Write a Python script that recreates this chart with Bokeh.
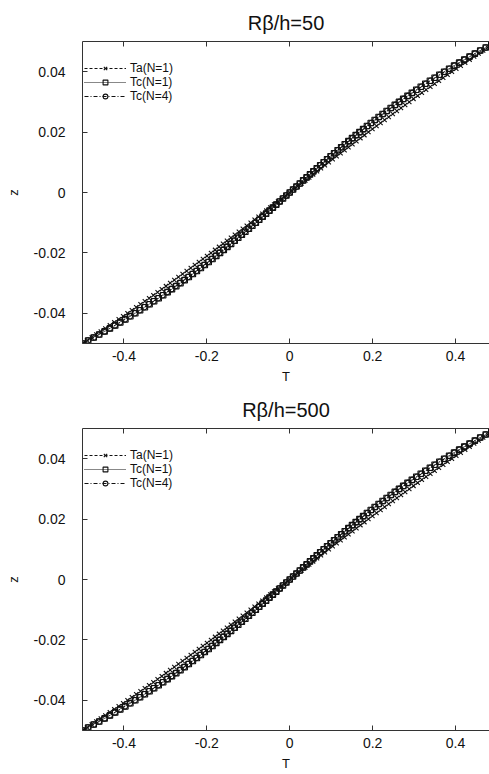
from bokeh.plotting import figure
from bokeh.layouts import column
from bokeh.models import (ColumnDataSource, FixedTicker, LinearAxis, Range1d,
                          CustomJSTickFormatter, Legend, LegendItem)
from bokeh.embed import file_html
from bokeh.resources import INLINE

# ---------------- data ----------------
z = [-0.050, -0.049, -0.048, -0.047, -0.046, -0.045, -0.044, -0.043, -0.042, -0.041,
     -0.040, -0.039, -0.038, -0.037, -0.036, -0.035, -0.034, -0.033, -0.032, -0.031,
     -0.030, -0.029, -0.028, -0.027, -0.026, -0.025, -0.024, -0.023, -0.022, -0.021,
     -0.020, -0.019, -0.018, -0.017, -0.016, -0.015, -0.014, -0.013, -0.012, -0.011,
     -0.010, -0.009, -0.008, -0.007, -0.006, -0.005, -0.004, -0.003, -0.002, -0.001,
     0.000,
     0.001, 0.002, 0.003, 0.004, 0.005, 0.006, 0.007, 0.008, 0.009, 0.010,
     0.011, 0.012, 0.013, 0.014, 0.015, 0.016, 0.017, 0.018, 0.019, 0.020,
     0.021, 0.022, 0.023, 0.024, 0.025, 0.026, 0.027, 0.028, 0.029, 0.030,
     0.031, 0.032, 0.033, 0.034, 0.035, 0.036, 0.037, 0.038, 0.039, 0.040,
     0.041, 0.042, 0.043, 0.044, 0.045, 0.046, 0.047, 0.048, 0.049, 0.050]

ta_50 = [-0.5000, -0.4888, -0.4777, -0.4667, -0.4558, -0.4449, -0.4340, -0.4233, -0.4126, -0.4019,
         -0.3914, -0.3808, -0.3704, -0.3600, -0.3496, -0.3393, -0.3290, -0.3188, -0.3087, -0.2986,
         -0.2885, -0.2785, -0.2685, -0.2585, -0.2486, -0.2388, -0.2289, -0.2191, -0.2094, -0.1996,
         -0.1899, -0.1802, -0.1706, -0.1610, -0.1514, -0.1418, -0.1323, -0.1227, -0.1132, -0.1037,
         -0.0942, -0.0848, -0.0753, -0.0659, -0.0565, -0.0470, -0.0376, -0.0282, -0.0188, -0.0094,
         0.0000,
         0.0094, 0.0188, 0.0282, 0.0376, 0.0470, 0.0565, 0.0659, 0.0753, 0.0848, 0.0942,
         0.1037, 0.1132, 0.1227, 0.1323, 0.1418, 0.1514, 0.1610, 0.1706, 0.1802, 0.1899,
         0.1996, 0.2094, 0.2191, 0.2289, 0.2388, 0.2486, 0.2585, 0.2685, 0.2785, 0.2885,
         0.2986, 0.3087, 0.3188, 0.3290, 0.3393, 0.3496, 0.3600, 0.3704, 0.3808, 0.3914,
         0.4019, 0.4126, 0.4233, 0.4340, 0.4449, 0.4558, 0.4667, 0.4777, 0.4888, 0.5000]

tc1_50 = [-0.5000, -0.4863, -0.4729, -0.4596, -0.4466, -0.4338, -0.4211, -0.4087, -0.3965, -0.3845,
          -0.3726, -0.3610, -0.3495, -0.3382, -0.3271, -0.3161, -0.3053, -0.2946, -0.2841, -0.2737,
          -0.2635, -0.2534, -0.2435, -0.2337, -0.2240, -0.2144, -0.2049, -0.1955, -0.1863, -0.1771,
          -0.1681, -0.1591, -0.1502, -0.1414, -0.1327, -0.1241, -0.1155, -0.1070, -0.0985, -0.0901,
          -0.0818, -0.0735, -0.0652, -0.0570, -0.0488, -0.0406, -0.0324, -0.0243, -0.0162, -0.0081,
          0.0000,
          0.0081, 0.0162, 0.0243, 0.0324, 0.0406, 0.0488, 0.0570, 0.0652, 0.0735, 0.0818,
          0.0901, 0.0985, 0.1070, 0.1155, 0.1241, 0.1327, 0.1414, 0.1502, 0.1591, 0.1681,
          0.1771, 0.1863, 0.1955, 0.2049, 0.2144, 0.2240, 0.2337, 0.2435, 0.2534, 0.2635,
          0.2737, 0.2841, 0.2946, 0.3053, 0.3161, 0.3271, 0.3382, 0.3495, 0.3610, 0.3726,
          0.3845, 0.3965, 0.4087, 0.4211, 0.4338, 0.4466, 0.4596, 0.4729, 0.4863, 0.5000]

tc4_50 = [-0.5000, -0.4865, -0.4732, -0.4602, -0.4473, -0.4346, -0.4221, -0.4098, -0.3977, -0.3858,
          -0.3741, -0.3625, -0.3511, -0.3399, -0.3288, -0.3179, -0.3071, -0.2965, -0.2860, -0.2757,
          -0.2654, -0.2554, -0.2454, -0.2356, -0.2259, -0.2163, -0.2068, -0.1974, -0.1881, -0.1789,
          -0.1698, -0.1607, -0.1518, -0.1429, -0.1341, -0.1254, -0.1168, -0.1082, -0.0996, -0.0912,
          -0.0827, -0.0743, -0.0660, -0.0576, -0.0494, -0.0411, -0.0328, -0.0246, -0.0164, -0.0082,
          0.0000,
          0.0082, 0.0164, 0.0246, 0.0328, 0.0411, 0.0494, 0.0576, 0.0660, 0.0743, 0.0827,
          0.0912, 0.0996, 0.1082, 0.1168, 0.1254, 0.1341, 0.1429, 0.1518, 0.1607, 0.1698,
          0.1789, 0.1881, 0.1974, 0.2068, 0.2163, 0.2259, 0.2356, 0.2454, 0.2554, 0.2654,
          0.2757, 0.2860, 0.2965, 0.3071, 0.3179, 0.3288, 0.3399, 0.3511, 0.3625, 0.3741,
          0.3858, 0.3977, 0.4098, 0.4221, 0.4346, 0.4473, 0.4602, 0.4732, 0.4865, 0.5000]

# the R/h=500 panel reads the same within pixel accuracy
ta_500 = ta_50
tc1_500 = tc1_50
tc4_500 = tc4_50

series_labels = ["Ta(N=1)", "Tc(N=1)", "Tc(N=4)"]
titles = ["R\u03b2/h=50", "R\u03b2/h=500"]
x_ticks = [-0.4, -0.2, 0, 0.2, 0.4]
y_ticks = [-0.04, -0.02, 0, 0.02, 0.04]

FONT = "Liberation Sans"
INK = "#111111"
LEGEND_ROW_Y = [268, 254, 240]   # screen offsets of the three legend rows from the frame bottom


def make_panel(title, ta, tc1, tc4, height, bottom):
    src = ColumnDataSource(dict(z=z, ta=ta, tc1=tc1, tc4=tc4))
    p = figure(width=489, height=height, title=title,
               x_range=Range1d(-0.5, 0.482), y_range=Range1d(-0.05, 0.05),
               output_backend="svg", toolbar_location=None,
               min_border_left=82, min_border_right=0,
               min_border_top=41, min_border_bottom=bottom)
    p.outline_line_color = None
    p.grid.visible = False
    p.background_fill_color = "white"

    p.title.text_font = FONT
    p.title.text_font_size = "20px"
    p.title.text_font_style = "normal"
    p.title.text_color = INK
    p.title.align = "center"
    p.title.standoff = 15

    fmt = CustomJSTickFormatter(code="return tick.toString();")
    for ax, ticks, lab in ((p.xaxis[0], x_ticks, "T"), (p.yaxis[0], y_ticks, "z")):
        ax.ticker = FixedTicker(ticks=ticks)
        ax.formatter = fmt
        ax.axis_label = lab
        ax.axis_label_text_font = FONT
        ax.axis_label_text_font_size = "13px"
        ax.axis_label_text_font_style = "normal"
        ax.axis_label_text_color = INK
        ax.major_label_text_font = FONT
        ax.major_label_text_font_size = "14px"
        ax.major_label_text_color = INK
        ax.major_tick_in = 5
        ax.major_tick_out = 0
        ax.minor_tick_line_color = None
        ax.axis_line_color = "#333333"
        ax.major_tick_line_color = "#333333"
    p.xaxis[0].major_label_standoff = 7
    p.xaxis[0].axis_label_standoff = 5
    p.yaxis[0].major_label_standoff = 17
    p.yaxis[0].axis_label_standoff = 10

    top = LinearAxis(ticker=FixedTicker(ticks=x_ticks),
                     formatter=CustomJSTickFormatter(code="return '';"),
                     major_tick_in=5, major_tick_out=0, major_label_standoff=0,
                     major_label_text_font_size="0px",
                     axis_line_color="#333333", major_tick_line_color="#333333",
                     minor_tick_line_color=None)
    p.add_layout(top, "above")

    r = []
    r.append((p.line("ta", "z", source=src, line_color=INK, line_width=1, line_dash="3 2"),
              p.scatter("ta", "z", source=src, marker="x", size=6, line_color=INK,
                        line_width=1.1)))
    r.append((p.line("tc1", "z", source=src, line_color=INK, line_width=1, line_dash="1 1"),
              p.scatter("tc1", "z", source=src, marker="square", size=5.5, line_color=INK,
                        fill_color=None, line_width=1.1)))
    r.append((p.line("tc4", "z", source=src, line_color=INK, line_width=1, line_dash="4 2 1 2"),
              p.scatter("tc4", "z", source=src, marker="circle", size=5.5, line_color=INK,
                        fill_color=None, line_width=1.1)))

    for lab, rends, ly in zip(series_labels, r, LEGEND_ROW_Y):
        lg = Legend(items=[LegendItem(label=lab, renderers=list(rends))],
                    location=(2, ly), background_fill_alpha=0, border_line_color=None,
                    label_text_font=FONT, label_text_font_size="12px",
                    label_text_color=INK, glyph_width=42, glyph_height=12,
                    label_height=12, spacing=0, padding=0, margin=0,
                    label_standoff=4)
        p.add_layout(lg, "center")
    return p


p1 = make_panel(titles[0], ta_50, tc1_50, tc4_50, 387, 44)
p2 = make_panel(titles[1], ta_500, tc1_500, tc4_500, 386, 43)
layout = column(p1, p2, spacing=0)

with open("out.html", "w") as f:
    f.write(file_html(layout, INLINE))
